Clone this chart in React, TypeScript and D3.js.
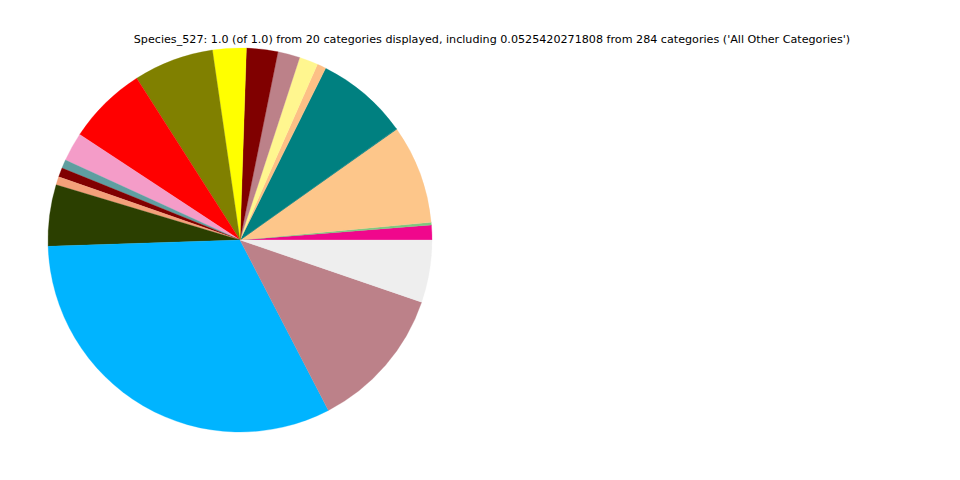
import React from "react";
import * as d3 from "d3";

const categories = [
  "c1", "c2", "c3", "c4", "c5", "c6", "c7", "c8", "c9", "c10",
  "c11", "c12", "c13", "c14", "c15", "c16", "c17", "c18", "c19", "All Other Categories",
];
const values = [
  0.0125, 0.0022, 0.0833, 0.0005, 0.078, 0.0075, 0.0158, 0.0186, 0.0264, 0.0283,
  0.0675, 0.0669, 0.0244, 0.0072, 0.0078, 0.0069, 0.0517, 0.3211, 0.1214, 0.0525,
];
const colors = [
  "#f0078c", "#7fc97f", "#fdc68a", "#0a7878", "#008080", "#fdc086", "#fff68f", "#bc8189", "#800000", "#ffff00",
  "#808000", "#ff0000", "#f49cc8", "#5f9ea0", "#800000", "#f4a07a", "#2b3f00", "#00b4ff", "#bc8189", "#eeeeee",
];
const title =
  "Species_527: 1.0 (of 1.0) from 20 categories displayed, including 0.0525420271808 from 284 categories ('All Other Categories')";

export default function App() {
  const W = 960, H = 480;
  const cx = 240, cy = 240, r = 192;
  const data = categories.map((c, i) => ({ c, v: values[i], col: colors[i] }));
  const pie = d3
    .pie<any>()
    .value((d) => d.v)
    .sort(null)
    .startAngle(Math.PI / 2)
    .endAngle(Math.PI / 2 - 2 * Math.PI);
  const arc = d3.arc<any>().innerRadius(0).outerRadius(r);
  const arcs = pie(data);
  return (
    <svg width={W} height={H} style={{ position: "absolute", left: 0, top: 0 }}>
      <rect width={W} height={H} fill="#ffffff" />
      <g transform={`translate(${cx},${cy})`}>
        {arcs.map((a, i) => (
          <path key={i} d={arc(a) as string} fill={a.data.col} stroke={a.data.col} strokeWidth={0.3} />
        ))}
      </g>
      <text x={492} y={43} textAnchor="middle" fontFamily="DejaVu Sans" fontSize={11.15} fill="#000">
        {title}
      </text>
    </svg>
  );
}
